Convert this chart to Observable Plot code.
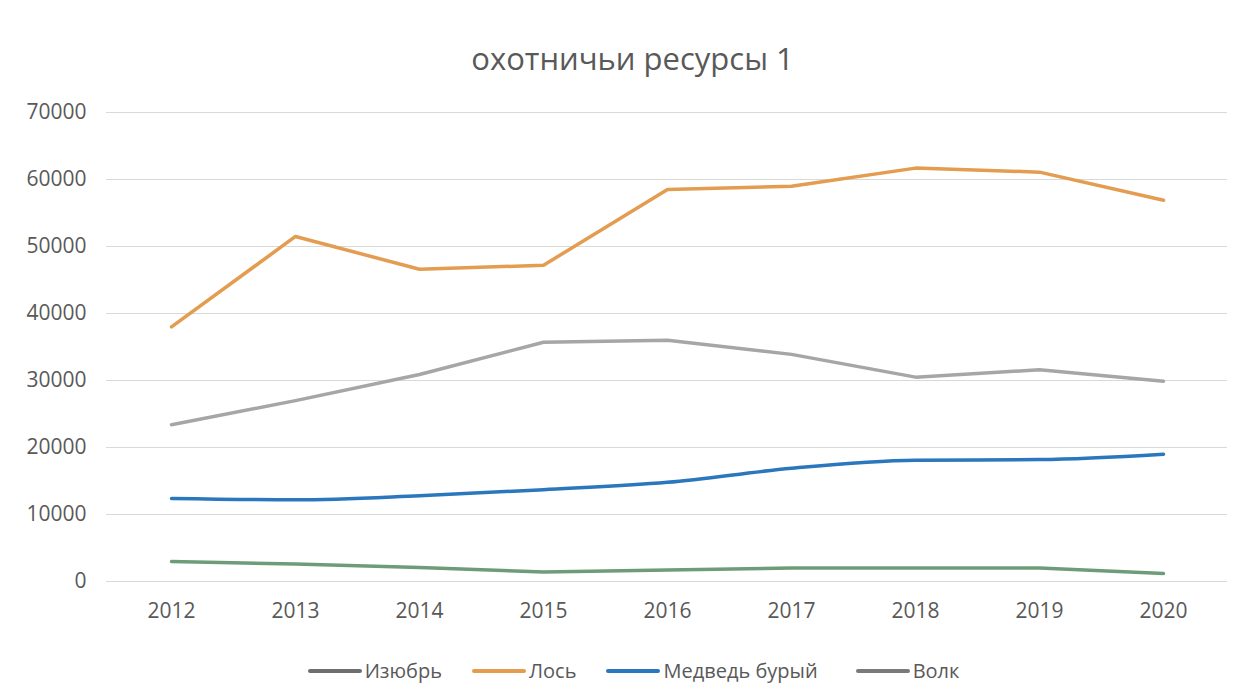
<!DOCTYPE html>
<html>
<head>
<meta charset="utf-8">
<script src="https://cdn.jsdelivr.net/npm/d3@7"></script>
<script src="https://cdn.jsdelivr.net/npm/@observablehq/plot@0.6"></script>
<style>
  body { margin: 0; background: #fff; font-family: "Open Sans", sans-serif; color: #595959; }
  #title { height: 90px; box-sizing: border-box; padding-top: 37px; padding-left: 20px; line-height: 42px; font-size: 31px; text-align: center; color: #595959; }
  #legend { height: 59px; box-sizing: border-box; padding-top: 3px; line-height: 30px; font-size: 20px; display: flex; justify-content: center; color: #595959; padding-left: 22px; }
  .item { display: flex; align-items: center; margin-right: 30px; }
  .item:nth-child(3) { margin-right: 38px; }
  .item:last-child { margin-right: 0; }
  .sw { width: 54px; height: 4px; margin-right: 3px; border-radius: 2px; }
</style>
</head>
<body>
<div id="title">охотничьи ресурсы 1</div>
<div id="chart"></div>
<div id="legend"></div>
<script>
const years = [2012, 2013, 2014, 2015, 2016, 2017, 2018, 2019, 2020];
const seriesNames = ["Изюбрь", "Лось", "Медведь бурый", "Волк"];
const izyubr = [23400, 27000, 30900, 35700, 36000, 33900, 30500, 31600, 29900];
const los = [38000, 51500, 46600, 47200, 58500, 59000, 61700, 61100, 56900];
const medved = [12400, 12200, 12800, 13700, 14800, 16900, 18100, 18200, 19000];
const volk = [3000, 2600, 2100, 1400, 1700, 2000, 2000, 2000, 1200];
const yTicks = [0, 10000, 20000, 30000, 40000, 50000, 60000, 70000];

const lineColors = ["#a6a6a6", "#e39c50", "#2b77bd", "#6e9c79"];
const legendColors = ["#6f6f6f", "#e39c50", "#2b77bd", "#7a7a7a"];

const values = [izyubr, los, medved, volk];
const data = [];
seriesNames.forEach((s, i) => years.forEach((y, j) => data.push({series: s, year: String(y), value: values[i][j]})));

const plot = Plot.plot({
  width: 1245,
  height: 550,
  marginTop: 22,
  marginBottom: 59,
  marginLeft: 106,
  marginRight: 18,
  style: {fontSize: "21px", fontFamily: "Open Sans", color: "#595959", background: "#fff"},
  x: {type: "point", domain: years.map(String), padding: 0.5, label: null},
  y: {domain: [0, 70000], label: null},
  color: {domain: seriesNames, range: lineColors},
  marks: [
    Plot.gridY(yTicks, {stroke: "#d9d9d9", strokeOpacity: 1, strokeWidth: 1.2}),
    Plot.axisY(yTicks, {tickSize: 0, tickPadding: 20, tickFormat: d => String(d), label: null}),
    Plot.axisX({tickSize: 0, tickPadding: 22, label: null}),
    Plot.line(data.filter(d => d.series !== "Медведь бурый"), {x: "year", y: "value", z: "series", stroke: "series", strokeWidth: 3.5, strokeLinecap: "round", strokeLinejoin: "round"}),
    Plot.line(data.filter(d => d.series === "Медведь бурый"), {x: "year", y: "value", stroke: "series", strokeWidth: 3.5, curve: "monotone-x", strokeLinecap: "round"})
  ]
});
document.getElementById("chart").appendChild(plot);

const legend = document.getElementById("legend");
seriesNames.forEach((s, i) => {
  const it = document.createElement("div");
  it.className = "item";
  const sw = document.createElement("div");
  sw.className = "sw";
  sw.style.background = legendColors[i];
  const t = document.createElement("span");
  t.textContent = s;
  it.appendChild(sw); it.appendChild(t);
  legend.appendChild(it);
});
</script>
</body>
</html>
